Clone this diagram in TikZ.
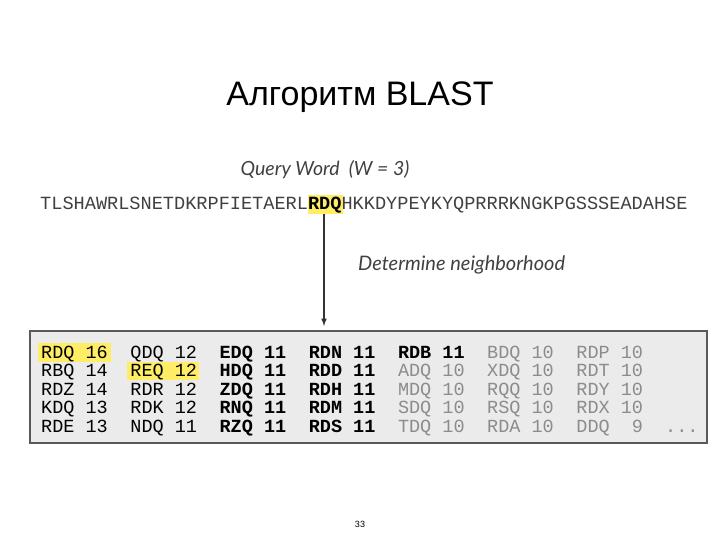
\documentclass[tikz,border=0pt]{standalone}
\usepackage{fontspec}
\setmainfont{Liberation Sans}
\newfontfamily\qfont{Lato}
\newfontfamily\mono{Liberation Mono}
\begin{document}
\begin{tikzpicture}[x=1pt,y=-1pt,
  cell/.style={anchor=base west,inner sep=0pt,font=\mono\fontsize{18.5}{19}\selectfont},
  bcell/.style={cell,font=\mono\bfseries\fontsize{18.5}{19}\selectfont},
  dim/.style={text=black!45},
  hl/.style={fill=yellow!85!orange!60}]
\useasboundingbox (0,0) rectangle (720,540);
\node[font=\fontsize{34}{38}\selectfont] (title) at (360,97) {Алгоритм BLAST};
\node[font=\qfont\itshape\fontsize{19.5}{22}\selectfont,text=black!75] (qw) at (325,170) {Query Word\ \ (W = 3)};
\fill[hl] (308,195) rectangle (343,214);
\node[anchor=base west,inner sep=0pt,font=\mono\fontsize{18.6}{19}\selectfont,text=black!75] (seq) at (40,210)
 {TLSHAWRLSNETDKRPFIETAERL\textbf{\textcolor{black}{RDQ}}HKKDYPEYKYQPRRRKNGKPGSSSEADAHSE};
\coordinate (a1) at (324,214);
\coordinate (a2) at (324,326);
\draw[line width=1.5pt,-latex,black!80] (a1) -- (a2);
\node[anchor=west,inner sep=0pt,font=\qfont\itshape\fontsize{20}{22}\selectfont,text=black!75] (dn) at (358,265) {Determine neighborhood};
\draw[fill=black!8,draw=black!65,line width=1.5pt] (30,331) rectangle (707,443);
\fill[hl] (38,343) rectangle (111,362);
\fill[hl] (127,362) rectangle (199,380);
\foreach \r [count=\i] in {{RDQ 16,QDQ 12,EDQ 11,RDN 11,RDB 11,BDQ 10,RDP 10},
  {RBQ 14,REQ 12,HDQ 11,RDD 11,ADQ 10,XDQ 10,RDT 10},
  {RDZ 14,RDR 12,ZDQ 11,RDH 11,MDQ 10,RQQ 10,RDY 10},
  {KDQ 13,RDK 12,RNQ 11,RDM 11,SDQ 10,RSQ 10,RDX 10},
  {RDE 13,NDQ 11,RZQ 11,RDS 11,TDQ 10,RDA 10,DDQ \ 9}}{
  \foreach \c [count=\j] in \r {
    \pgfmathsetmacro\xx{41+(\j-1)*89.2}
    \pgfmathsetmacro\yy{358+(\i-1)*18.5}
    \ifnum\j<5
      \ifnum\j>2 \node[bcell] (c\i\j) at (\xx,\yy) {\c};
      \else \node[cell] (c\i\j) at (\xx,\yy) {\c};\fi
    \else
      \ifnum\i=1 \ifnum\j=5 \node[bcell] (c\i\j) at (\xx,\yy) {\c};
        \else \node[cell,dim] (c\i\j) at (\xx,\yy) {\c};\fi
      \else \node[cell,dim] (c\i\j) at (\xx,\yy) {\c};\fi
    \fi
  }
}
\node[cell,dim] (dots) at (665,432) {...};
\node[font=\fontsize{9}{10}\selectfont] (pg) at (360,524) {33};
\end{tikzpicture}
\end{document}
